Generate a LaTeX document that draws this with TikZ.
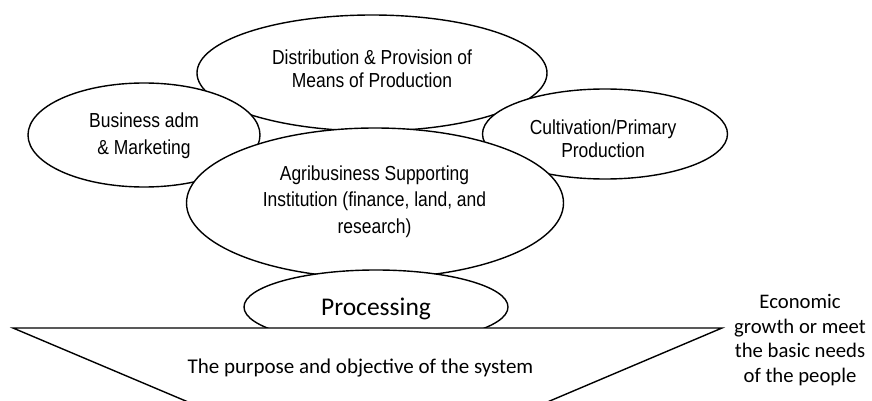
\documentclass[tikz,border=0pt]{standalone}
\usepackage{fontspec}
\setmainfont{Liberation Sans}
\newfontfamily\arialn[FakeStretch=0.86]{Liberation Sans}
\newfontfamily\calib{Carlito}
\usetikzlibrary{shapes.geometric}
\begin{document}
\begin{tikzpicture}[x=1pt,y=-1pt,
  ell/.style={ellipse, draw, line width=1.4pt, fill=white, inner sep=0pt},
  etext/.style={font=\arialn\fontsize{20.3}{23}\selectfont, align=center, inner sep=0pt},
  ctext/.style={font=\calib\fontsize{21}{24.5}\selectfont, align=center, inner sep=0pt}]
\useasboundingbox (0,0) rectangle (872,401);
\fill[white] (0,0) rectangle (872,401);
\clip (0,0) rectangle (872,401);
% top ellipse
\node[ell, minimum width=350pt, minimum height=116pt] (dist) at (372,73) {};
\node[etext] (distT) at (372,68.5) {Distribution \& Provision of\\Means of Production};
% left ellipse
\node[ell, minimum width=232pt, minimum height=104pt] (bus) at (144,135) {};
\node[etext, font=\arialn\fontsize{20.3}{27}\selectfont] (busT) at (144,136) {Business adm\\\& Marketing};
% right ellipse
\node[ell, minimum width=245pt, minimum height=90pt] (cult) at (605,134) {};
\node[etext] (cultT) at (603,138.5) {Cultivation/Primary\\Production};
% central ellipse
\node[ell, minimum width=377pt, minimum height=150pt] (agri) at (375,203) {};
\node[etext, font=\arialn\fontsize{20.3}{26.5}\selectfont] (agriT) at (374.5,201.5) {Agribusiness Supporting\\Institution (finance, land, and\\research)};
% processing ellipse
\node[ell, minimum width=264pt, minimum height=74pt] (proc) at (376,307) {};
\node[ctext, font=\calib\fontsize{25.5}{30}\selectfont] (procT) at (376,309) {Processing};
% inverted triangle
\coordinate (tl) at (13,328);
\coordinate (tr) at (722,328);
\coordinate (tb) at (368,478);
\draw[line width=1.4pt, fill=white, line join=miter] (tl) -- (tr) -- (tb) -- cycle;
\node[ctext] (purpose) at (360.5,368) {The purpose and objective of the system};
\node[ctext, font=\calib\fontsize{20.7}{24.5}\selectfont] (goal) at (800,340) {Economic\\growth or meet\\the basic needs\\of the people};
\end{tikzpicture}
\end{document}
